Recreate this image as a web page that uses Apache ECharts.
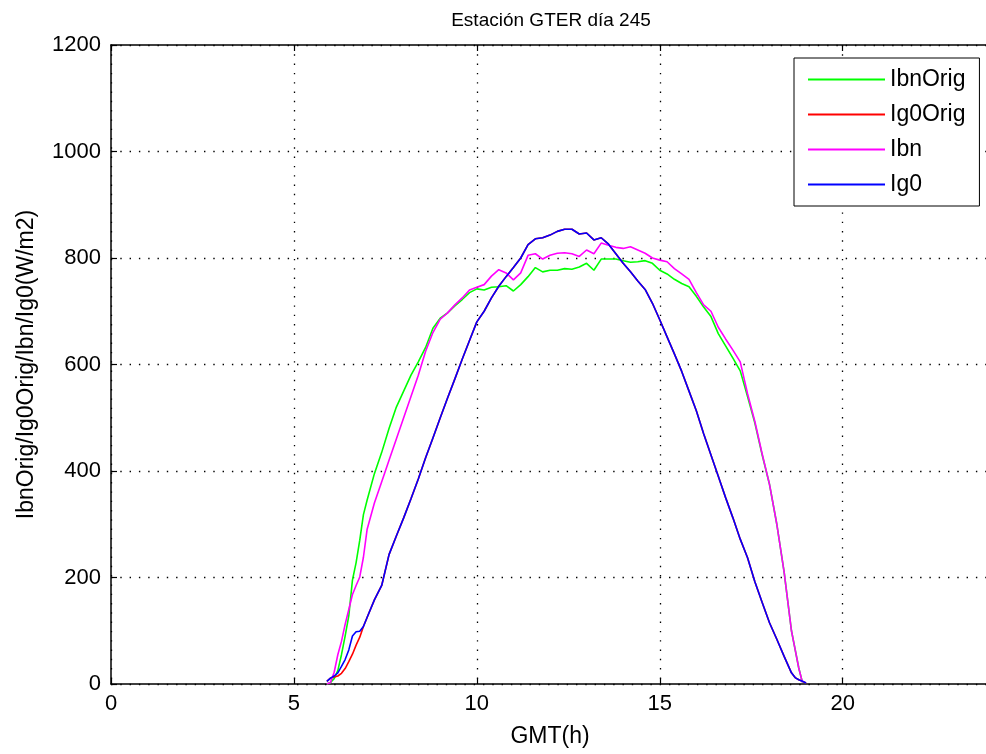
<!DOCTYPE html>
<html>
<head>
<meta charset="utf-8">
<script src="https://cdn.jsdelivr.net/npm/echarts@6/dist/echarts.min.js"></script>
<style>html,body{margin:0;padding:0;background:#fff}#c{width:986px;height:754px}</style>
</head>
<body>
<div id="c"></div>
<script>
// Time (GMT hours)
const hours = [5.9, 6.0, 6.1, 6.2, 6.3, 6.4, 6.5, 6.6, 6.7, 6.8, 6.9, 7.0,
  7.2, 7.4, 7.6, 7.8, 8.0, 8.2, 8.4, 8.6, 8.8, 9.0, 9.2, 9.4, 9.6, 9.8,
  10.0, 10.2, 10.4, 10.6, 10.8, 11.0, 11.2, 11.4, 11.6, 11.8,
  12.0, 12.2, 12.4, 12.6, 12.8, 13.0, 13.2, 13.4, 13.6, 13.8,
  14.0, 14.2, 14.4, 14.6, 14.8, 15.0, 15.2, 15.4, 15.6, 15.8,
  16.0, 16.2, 16.4, 16.6, 16.8, 17.0, 17.2, 17.4, 17.6, 17.8,
  18.0, 18.2, 18.4, 18.6, 18.7, 18.8, 18.9, 19.0, 19.1];

const ibnOrig = [0, 3, 10, 25, 55, 90, 128, 195, 228, 270, 318, 345,
  395, 435, 480, 520, 550, 580, 605, 632, 668, 687, 697, 710, 722, 735,
  742, 740, 745, 746, 748, 738, 750, 765, 782, 774,
  777, 777, 780, 779, 783, 790, 777, 798, 798, 798,
  795, 792, 793, 795, 790, 777, 770, 760, 752, 746,
  728, 708, 690, 658, 635, 612, 588, 540, 490, 430,
  375, 300, 210, 100, 65, 30, 3, null, null];

const ig0Orig = [5, 11, 13, 15, 20, 29, 42, 56, 73, 88, 108, 125,
  158, 185, 243, 278, 312, 348, 385, 425, 462, 500, 537, 573, 610, 645,
  680, 700, 725, 747, 765, 782, 800, 825, 836, 838,
  843, 850, 854, 854, 845, 847, 834, 838, 826, 808,
  790, 774, 757, 741, 715, 684, 652, 620, 587, 550,
  513, 470, 430, 390, 350, 312, 272, 237, 192, 153,
  115, 84, 52, 21, 12, 8, 5, 2, null];

const ibn = [0, 3, 22, 55, 80, 112, 140, 168, 185, 201, 238, 290,
  340, 380, 420, 460, 500, 540, 580, 625, 660, 685, 697, 712, 725, 740,
  745, 750, 766, 778, 772, 759, 772, 805, 808, 798,
  805, 809, 810, 808, 803, 815, 808, 828, 824, 820,
  818, 821, 815, 809, 800, 796, 793, 780, 770, 760,
  735, 712, 700, 670, 648, 627, 605, 545, 493, 432,
  375, 300, 210, 100, 65, 30, 3, null, null];

const ig0 = [5, 11, 15, 21, 33, 46, 64, 90, 98, 99, 108, 125,
  158, 185, 243, 278, 312, 348, 385, 425, 462, 500, 537, 573, 610, 645,
  680, 700, 725, 747, 765, 782, 800, 825, 836, 838,
  843, 850, 854, 854, 845, 847, 834, 838, 826, 808,
  790, 774, 757, 741, 715, 684, 652, 620, 587, 550,
  513, 470, 430, 390, 350, 312, 272, 237, 192, 153,
  115, 84, 52, 21, 12, 8, 5, 2, null];

const seriesNames = ['IbnOrig', 'Ig0Orig', 'Ibn', 'Ig0'];
const seriesColors = ['#00ff00', '#ff0000', '#ff00ff', '#0000ff'];
const seriesValues = [ibnOrig, ig0Orig, ibn, ig0];

const xTicks = {min: 0, max: 24, interval: 5};
const yTicks = {min: 0, max: 1200, interval: 200};

const F = "'Liberation Sans', Arial, sans-serif";

function pairs(vals) {
  const out = [];
  hours.forEach((t, i) => { if (vals[i] != null) out.push([t, vals[i]]); });
  return out;
}

const chart = echarts.init(document.getElementById('c'), null, {renderer: 'canvas'});
const axisLine = {show: true, lineStyle: {color: '#000', width: 1.5}};
const tick = {show: true, inside: true, length: 6, lineStyle: {color: '#000', width: 1.2}};
const split = {show: true, lineStyle: {color: '#000', width: 1.3, type: [1.4, 7.9]}};

chart.setOption({
  animation: false,
  backgroundColor: '#fff',
  title: {
    text: 'Estación GTER día 245',
    left: 546, top: 6, textAlign: 'center',
    textStyle: {fontFamily: F, fontSize: 19, fontWeight: 'normal', color: '#000'}
  },
  legend: {
    orient: 'vertical', left: 794, top: 58,
    icon: 'rect',
    itemWidth: 77, itemHeight: 2, itemGap: 12,
    padding: [10, 14, 10, 14],
    borderColor: '#000', borderWidth: 1, backgroundColor: '#fff',
    textStyle: {fontFamily: F, fontSize: 23, color: '#000'},
    data: seriesNames.map((n, i) => ({name: n, icon: 'rect', itemStyle: {color: seriesColors[i]}}))
  },
  grid: {left: 111, right: -3, top: 45, bottom: 70, containLabel: false, outerBoundsMode: 'none'},
  xAxis: [{
    type: 'value', position: 'bottom', min: xTicks.min, max: xTicks.max, interval: xTicks.interval,
    name: 'GMT(h)', nameLocation: 'middle', nameGap: 41,
    nameTextStyle: {fontFamily: F, fontSize: 23, color: '#000'},
    axisLine: axisLine, axisTick: tick, splitLine: split,
    axisLabel: {margin: 9, fontFamily: F, fontSize: 22, color: '#000',
      formatter: v => (v === 24 ? '' : String(v))}
  }, {
    type: 'value', position: 'top', min: xTicks.min, max: xTicks.max, interval: xTicks.interval,
    axisLine: axisLine, axisTick: tick, splitLine: {show: false}, axisLabel: {show: false}
  }],
  yAxis: {
    type: 'value', min: yTicks.min, max: yTicks.max, interval: yTicks.interval,
    name: 'IbnOrig/Ig0Orig/Ibn/Ig0(W/m2)', nameLocation: 'middle', nameGap: 73,
    nameTextStyle: {fontFamily: F, fontSize: 23, color: '#000'},
    axisLine: axisLine, axisTick: tick, splitLine: split,
    axisLabel: {margin: 10, fontFamily: F, fontSize: 22, color: '#000',
      formatter: v => String(v)}
  },
  series: seriesNames.map((n, i) => ({
    name: n, type: 'line', xAxisIndex: 0, symbol: 'none', showSymbol: false,
    data: pairs(seriesValues[i]),
    lineStyle: {color: seriesColors[i], width: 1.6},
    itemStyle: {color: seriesColors[i]},
    emphasis: {disabled: true}, z: 2 + i
  }))
});
</script>
</body>
</html>
